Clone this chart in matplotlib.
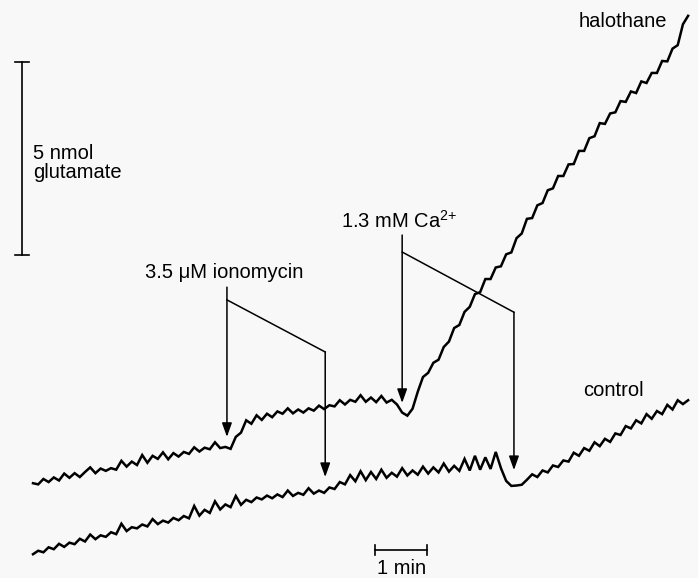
import matplotlib.pyplot as plt
import numpy as np

plt.rcParams['font.family'] = ['Liberation Sans', 'DejaVu Sans']
plt.rcParams['mathtext.fontset'] = 'custom'
plt.rcParams['mathtext.rm'] = 'Liberation Sans'

# sample interval of the recorder traces (min)
dt = 0.1

# glutamate released (nmol), halothane-treated synaptosomes
halothane = [
    1.99, 1.96, 2.10, 2.02, 2.14, 2.06, 2.24, 2.13, 2.25, 2.15,
    2.28, 2.40, 2.25, 2.37, 2.31, 2.38, 2.34, 2.57, 2.42, 2.55,
    2.46, 2.72, 2.52, 2.70, 2.62, 2.79, 2.61, 2.77, 2.68, 2.80,
    2.75, 2.92, 2.81, 2.91, 2.87, 3.05, 2.90, 2.93, 2.88, 3.19,
    3.30, 3.62, 3.53, 3.75, 3.63, 3.79, 3.70, 3.85, 3.79, 3.93,
    3.80, 3.90, 3.82, 3.93, 3.87, 4.00, 3.91, 4.01, 3.98, 4.14,
    4.03, 4.15, 4.10, 4.27, 4.10, 4.21, 4.09, 4.25, 4.08, 4.15,
    4.03, 3.82, 3.74, 3.92, 4.36, 4.74, 4.85, 5.11, 5.19, 5.52,
    5.66, 6.01, 6.09, 6.43, 6.56, 6.89, 6.94, 7.28, 7.28, 7.58,
    7.61, 7.92, 7.97, 8.34, 8.46, 8.84, 8.86, 9.19, 9.25, 9.58,
    9.63, 9.95, 9.95, 10.25, 10.26, 10.60, 10.60, 10.93, 10.98, 11.32,
    11.30, 11.57, 11.60, 11.89, 11.87, 12.14, 12.10, 12.40, 12.36, 12.62,
    12.62, 12.93, 12.92, 13.25, 13.34, 13.88, 14.10,
]

# glutamate released (nmol), control synaptosomes
control = [
    0.15, 0.24, 0.20, 0.33, 0.28, 0.42, 0.34, 0.45, 0.41, 0.55,
    0.48, 0.66, 0.54, 0.64, 0.60, 0.72, 0.67, 0.94, 0.75, 0.85,
    0.82, 0.92, 0.87, 1.06, 0.93, 1.02, 0.97, 1.09, 1.03, 1.14,
    1.08, 1.40, 1.15, 1.30, 1.22, 1.52, 1.31, 1.44, 1.37, 1.66,
    1.43, 1.56, 1.50, 1.62, 1.57, 1.67, 1.60, 1.70, 1.63, 1.80,
    1.66, 1.74, 1.69, 1.86, 1.72, 1.80, 1.74, 1.88, 1.84, 2.02,
    1.96, 2.20, 2.04, 2.30, 2.07, 2.28, 2.10, 2.34, 2.13, 2.26,
    2.16, 2.38, 2.19, 2.32, 2.21, 2.42, 2.24, 2.40, 2.27, 2.50,
    2.29, 2.44, 2.31, 2.62, 2.32, 2.70, 2.34, 2.66, 2.36, 2.80,
    2.38, 2.05, 1.92, 1.93, 1.95, 2.08, 2.22, 2.15, 2.32, 2.27,
    2.45, 2.41, 2.58, 2.55, 2.78, 2.70, 2.90, 2.83, 3.05, 2.95,
    3.14, 3.06, 3.28, 3.24, 3.47, 3.41, 3.62, 3.54, 3.78, 3.66,
    3.86, 3.78, 4.02, 3.90, 4.14, 4.04, 4.14,
]

# additions (min) and where the arrows end (nmol)
iono_times = [3.73, 5.62]
iono_tips = [3.19, 2.15]
ca_times = [7.10, 9.25]
ca_tips = [4.07, 2.33]

t_hal = np.arange(len(halothane)) * dt
t_ctl = np.arange(len(control)) * dt

fig = plt.figure(figsize=(6.98, 5.78), dpi=100, facecolor='#f8f8f8')
ax = fig.add_axes([0, 0, 1, 1])
ax.set_facecolor('#f8f8f8')
ax.set_xlim(-0.635, 12.79)
ax.set_ylim(-0.466, 14.51)
ax.axis('off')

ax.plot(t_hal, halothane, color='black', lw=1.8, solid_joinstyle='miter')
ax.plot(t_ctl, control, color='black', lw=1.8, solid_joinstyle='miter')

fs = 14.5
arrow = dict(arrowstyle='-|>,head_length=0.7,head_width=0.25', color='black',
             lw=1.1, mutation_scale=12, shrinkA=0, shrinkB=0)


def addition(times, tips, top, branch, corner, label, label_y):
    # vertical arrow to the first trace, bent leader to the second one
    ax.annotate('', xy=(times[0], tips[0]), xytext=(times[0], top), arrowprops=arrow)
    ax.plot([times[0], times[1]], [branch, corner], color='black', lw=1.1)
    ax.annotate('', xy=(times[1], tips[1]), xytext=(times[1], corner), arrowprops=arrow)
    ax.text(times[0] - 0.06, label_y, label, fontsize=fs, ha='center', va='center')


addition(iono_times, iono_tips, 7.07, 6.74, 5.39, '3.5 \u03bcM ionomycin', 7.46)
addition(ca_times, ca_tips, 8.42, 7.98, 6.42, '1.3 mM Ca$^{2{+}}$', 8.80)

ax.text(11.35, 13.94, 'halothane', fontsize=fs, ha='center', va='center')
ax.text(11.17, 4.40, 'control', fontsize=fs, ha='center', va='center')

# 5 nmol scale bar
ax.plot([-0.21, -0.21], [7.9, 12.9], color='black', lw=1.2)
for y in (7.9, 12.9):
    ax.plot([-0.34, -0.08], [y, y], color='black', lw=1.2)
ax.text(0.0, 10.28, '5 nmol\nglutamate', fontsize=fs, ha='left', va='center',
        linespacing=1.0)

# 1 min scale bar
ax.plot([6.58, 7.58], [0.26, 0.26], color='black', lw=1.2)
for x in (6.58, 7.58):
    ax.plot([x, x], [0.14, 0.38], color='black', lw=1.2)
ax.text(7.08, -0.22, '1 min', fontsize=fs, ha='center', va='center')

fig.savefig('out.png', dpi=100, facecolor=fig.get_facecolor())
